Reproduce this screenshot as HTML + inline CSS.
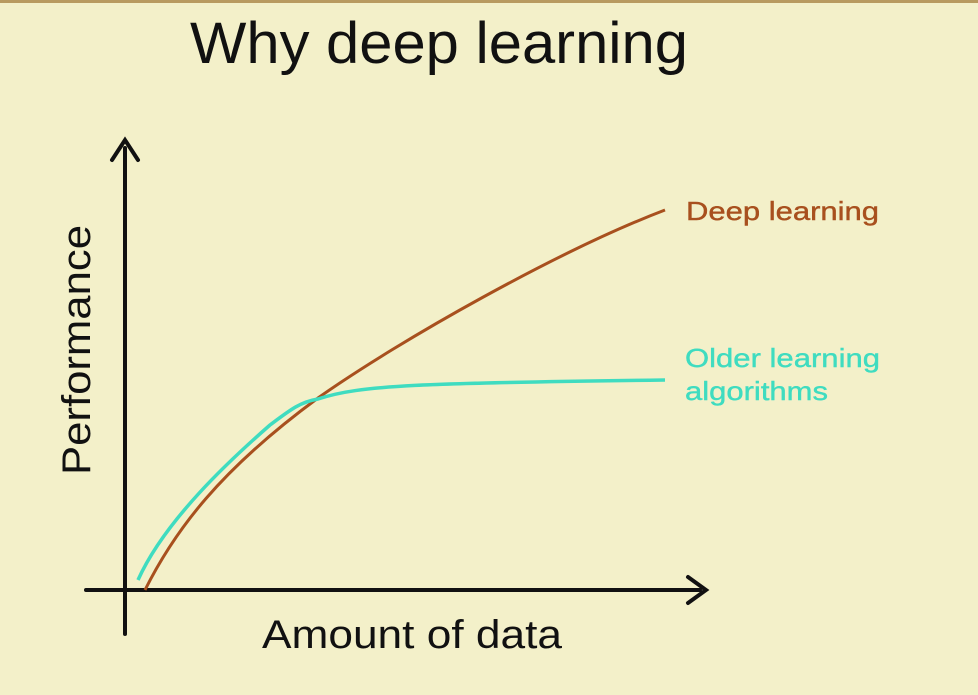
<!DOCTYPE html>
<html><head><meta charset="utf-8"><style>
html,body{margin:0;padding:0;background:#f3f0c9;}
svg{display:block}
text{font-family:"Liberation Sans",Arial,sans-serif;}
</style></head><body>
<svg width="978" height="695" viewBox="0 0 978 695" xmlns="http://www.w3.org/2000/svg">
<rect width="978" height="695" fill="#f3f0c9"/>
<rect width="978" height="3" fill="#b89a60"/>
<text x="190" y="63" font-size="58" fill="#111" textLength="498" lengthAdjust="spacingAndGlyphs">Why deep learning</text>
<g stroke="#111" stroke-width="4" fill="none" stroke-linecap="round">
<line x1="125" y1="148" x2="125" y2="634"/>
<line x1="86" y1="590" x2="700" y2="590"/>
<polyline points="112,160 125,140 138,160"/>
<polyline points="688,577 706,590 688,603"/>
</g>
<path d="M145,590 C175,530 220,470 318,398 C400,340 560,250 665,210" stroke="#a8501e" stroke-width="3" fill="none"/>
<path d="M138,580 C165,520 230,460 270,425 C290,410 300,402 318,399 C360,385 420,383 665,380" stroke="#3fdcc0" stroke-width="3.5" fill="none"/>
<text x="686" y="220" font-size="26" fill="#a8501e" stroke="#a8501e" stroke-width="0.4" textLength="193" lengthAdjust="spacingAndGlyphs">Deep learning</text>
<text x="685" y="367" font-size="26" fill="#3fdcc0" stroke="#3fdcc0" stroke-width="0.4" textLength="195" lengthAdjust="spacingAndGlyphs">Older learning</text>
<text x="685" y="400" font-size="26" fill="#3fdcc0" stroke="#3fdcc0" stroke-width="0.4" textLength="143" lengthAdjust="spacingAndGlyphs">algorithms</text>
<text transform="translate(90,475) rotate(-90)" font-size="40" fill="#111" textLength="250" lengthAdjust="spacingAndGlyphs">Performance</text>
<text x="262" y="648" font-size="40" fill="#111" textLength="300" lengthAdjust="spacingAndGlyphs">Amount of data</text>
</svg>
</body></html>
